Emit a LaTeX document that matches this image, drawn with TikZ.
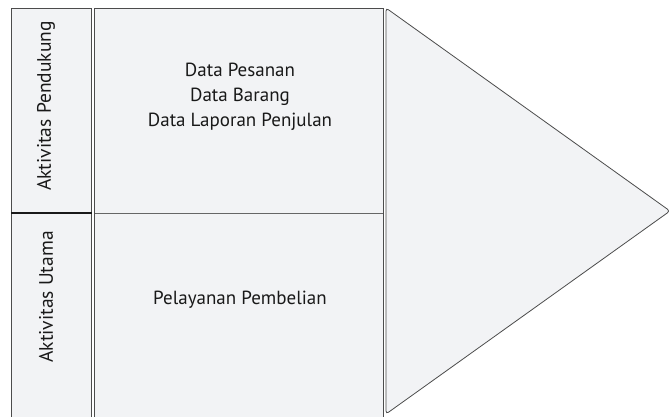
\documentclass[tikz,border=0pt]{standalone}
\usepackage{fontspec}
\setmainfont{PT Sans}
\begin{document}
\begin{tikzpicture}[x=1pt,y=-1pt,
  box/.style={draw=black!70,line width=0.8pt,fill=boxfill},
  lbl/.style={font=\fontsize{19}{25}\selectfont,align=center,text=black!90},
  side/.style={font=\fontsize{19.5}{22}\selectfont,rotate=90,text=black!90}]
\definecolor{boxfill}{HTML}{F2F3F5}
\useasboundingbox (0,0) rectangle (669,416);
\fill[white] (0,0) rectangle (669,416);
\draw[box] (11,8) rectangle (91.5,417);
\draw[box] (94.5,8) rectangle (383,417);
\draw[box,rounded corners=3pt] (386,8) -- (670,211) -- (386,414) -- cycle;
\draw[black!90,line width=1.1pt] (11,213) -- (91.5,213);
\draw[black!60,line width=0.8pt] (94.5,213) -- (383,213);
\node[side] (ap) at (46,106) {Aktivitas Pendukung};
\node[side] (au) at (46,297) {Aktivitas Utama};
\node[lbl] (d) at (240,97) {Data Pesanan\\Data Barang\\Data Laporan Penjulan};
\node[lbl] (p) at (240,300) {Pelayanan Pembelian};
\end{tikzpicture}
\end{document}
